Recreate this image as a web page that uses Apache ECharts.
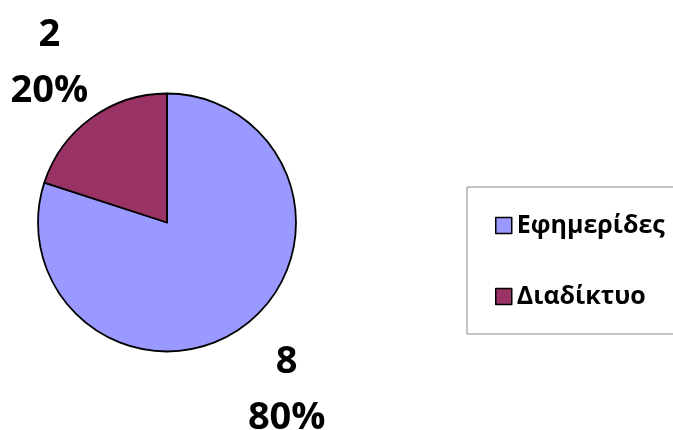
<!DOCTYPE html>
<html>
<head>
<meta charset="utf-8">
<script src="https://cdn.jsdelivr.net/npm/echarts@6/dist/echarts.min.js"></script>
<style>
html,body{margin:0;padding:0;background:#fff;}
#chart{width:673px;height:430px;}
</style>
</head>
<body>
<div id="chart"></div>
<script>
var categories = ['Εφημερίδες', 'Διαδίκτυο'];
var values = [8, 2];
var colors = ['#9999FF', '#993366'];

var pieData = categories.map(function (c, i) {
  return { name: c, value: values[i], itemStyle: { color: colors[i] } };
});

var chart = echarts.init(document.getElementById('chart'), null, { renderer: 'canvas' });
var font = "'Open Sans', 'Noto Sans', sans-serif";

chart.setOption({
  animation: false,
  backgroundColor: '#ffffff',
  legend: {
    orient: 'vertical',
    left: 467,
    top: 187,
    padding: [26, 24, 25, 28],
    itemGap: 46,
    itemWidth: 16,
    itemHeight: 16,
    icon: 'rect',
    borderColor: '#888888',
    borderWidth: 1,
    borderRadius: 0,
    selectedMode: false,
    itemStyle: { borderColor: '#000000', borderWidth: 1.5 },
    textStyle: { fontFamily: font, fontSize: 25, fontWeight: 'bold', color: '#000', lineHeight: 24 },
    data: categories
  },
  series: [
    {
      type: 'pie',
      center: [167, 222.5],
      radius: 129,
      startAngle: 90,
      clockwise: true,
      silent: true,
      itemStyle: { borderColor: '#000000', borderWidth: 1.8 },
      label: { show: false },
      labelLine: { show: false },
      data: pieData
    },
    {
      type: 'pie',
      center: [167, 222.5],
      radius: [157, 241],
      startAngle: 90,
      clockwise: true,
      silent: true,
      itemStyle: { color: 'rgba(0,0,0,0)', borderWidth: 0 },
      emphasis: { disabled: true },
      label: {
        show: true,
        position: 'inside',
        offset: [1, 4],
        formatter: function (p) { return p.value + '\n' + Math.round(p.percent) + '%'; },
        fontFamily: font,
        fontSize: 38,
        fontWeight: 'bold',
        color: '#000',
        lineHeight: 56,
        align: 'center',
        verticalAlign: 'middle'
      },
      labelLine: { show: false },
      data: pieData.map(function (d) { return { name: d.name, value: d.value }; })
    }
  ]
});
</script>
</body>
</html>
